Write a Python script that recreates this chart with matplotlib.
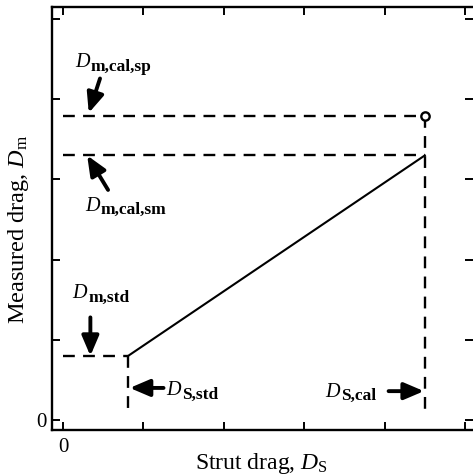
import matplotlib
matplotlib.use("Agg")
import matplotlib.pyplot as plt

plt.rcParams['font.family'] = ['Liberation Serif', 'DejaVu Serif']
plt.rcParams['mathtext.fontset'] = 'custom'
plt.rcParams['mathtext.rm'] = 'Liberation Serif'
plt.rcParams['mathtext.it'] = 'Liberation Serif:italic'

# key values (data units)
ds_std = 0.81
dm_std = 0.80
ds_cal = 4.50
dm_cal_sm = 3.30
dm_cal_sp = 3.79
line_x = [ds_std, ds_cal]
line_y = [dm_std, dm_cal_sm]
ticks = [0, 1, 2, 3, 4, 5]
tick_labels = ['0', '', '', '', '', '']

fig = plt.figure(figsize=(4.73, 4.76), dpi=100)
ax = fig.add_axes([0.110, 0.0966, 0.890, 0.8884])
ax.set_xlim(-0.137, 5.10)
ax.set_ylim(-0.125, 5.15)

dash = dict(color='black', lw=1.7, ls=(0, (5, 3.5)))
# horizontal dashed lines
ax.plot([0, ds_cal], [dm_cal_sp, dm_cal_sp], **dash)
ax.plot([0, ds_cal], [dm_cal_sm, dm_cal_sm], **dash)
ax.plot([0, ds_std], [dm_std, dm_std], **dash)
# vertical dashed lines
ax.plot([ds_cal, ds_cal], [dm_cal_sp, 0.07], **dash)
ax.plot([ds_std, ds_std], [dm_std, 0.09], **dash)
# solid line
ax.plot(line_x, line_y, color='black', lw=1.5)
# open circle
ax.plot([ds_cal], [dm_cal_sp], marker='o', ms=6, mfc='white', mec='black', mew=1.7)

ax.set_xticks(ticks)
ax.set_xticklabels(tick_labels)
ax.set_yticks(ticks)
ax.set_yticklabels(tick_labels)
ax.tick_params(direction='in', length=6, width=1.4, top=True, right=True,
               labelsize=15)
ax.tick_params(axis='x', pad=6)
ax.tick_params(axis='y', pad=4)
for s in ['left', 'bottom', 'top']:
    ax.spines[s].set_linewidth(1.7)
ax.spines['right'].set_visible(False)

ax.set_xlabel('Strut drag, $D_{\\mathrm{S}}$', fontsize=17, va='top')
ax.xaxis.set_label_coords(0.498, -0.050)
ax.set_ylabel('Measured drag, $D_{\\mathrm{m}}$', fontsize=17.5)
ax.yaxis.set_label_coords(-0.050, 0.475)


def dlabel(x, y, sub):
    t = ax.text(x, y, 'D', fontsize=14.5, fontstyle='italic', ha='left', va='baseline')
    ax.annotate(sub, xy=(1, 0), xycoords=t, xytext=(1.0, 1.0),
                textcoords='offset points', fontsize=12.5, fontweight='bold',
                ha='left', va='baseline')


dlabel(0.15, 4.40, 'm,cal,sp')
dlabel(0.27, 2.61, 'm,cal,sm')
dlabel(0.12, 1.52, 'm,std')
dlabel(1.28, 0.31, 'S,std')
dlabel(3.26, 0.29, 'S,cal')

arrow = dict(arrowstyle='-|>,head_length=0.75,head_width=0.32', color='black',
             lw=2.8, mutation_scale=16, shrinkA=0, shrinkB=0)
ax.annotate('', xy=(0.32, 3.83), xytext=(0.46, 4.26), arrowprops=arrow)
ax.annotate('', xy=(0.30, 3.30), xytext=(0.56, 2.87), arrowprops=arrow)
ax.annotate('', xy=(0.34, 0.80), xytext=(0.34, 1.28), arrowprops=arrow)
ax.annotate('', xy=(0.83, 0.40), xytext=(1.25, 0.40), arrowprops=arrow)
ax.annotate('', xy=(4.49, 0.36), xytext=(4.05, 0.36), arrowprops=arrow)

fig.savefig('out.png', dpi=100)
